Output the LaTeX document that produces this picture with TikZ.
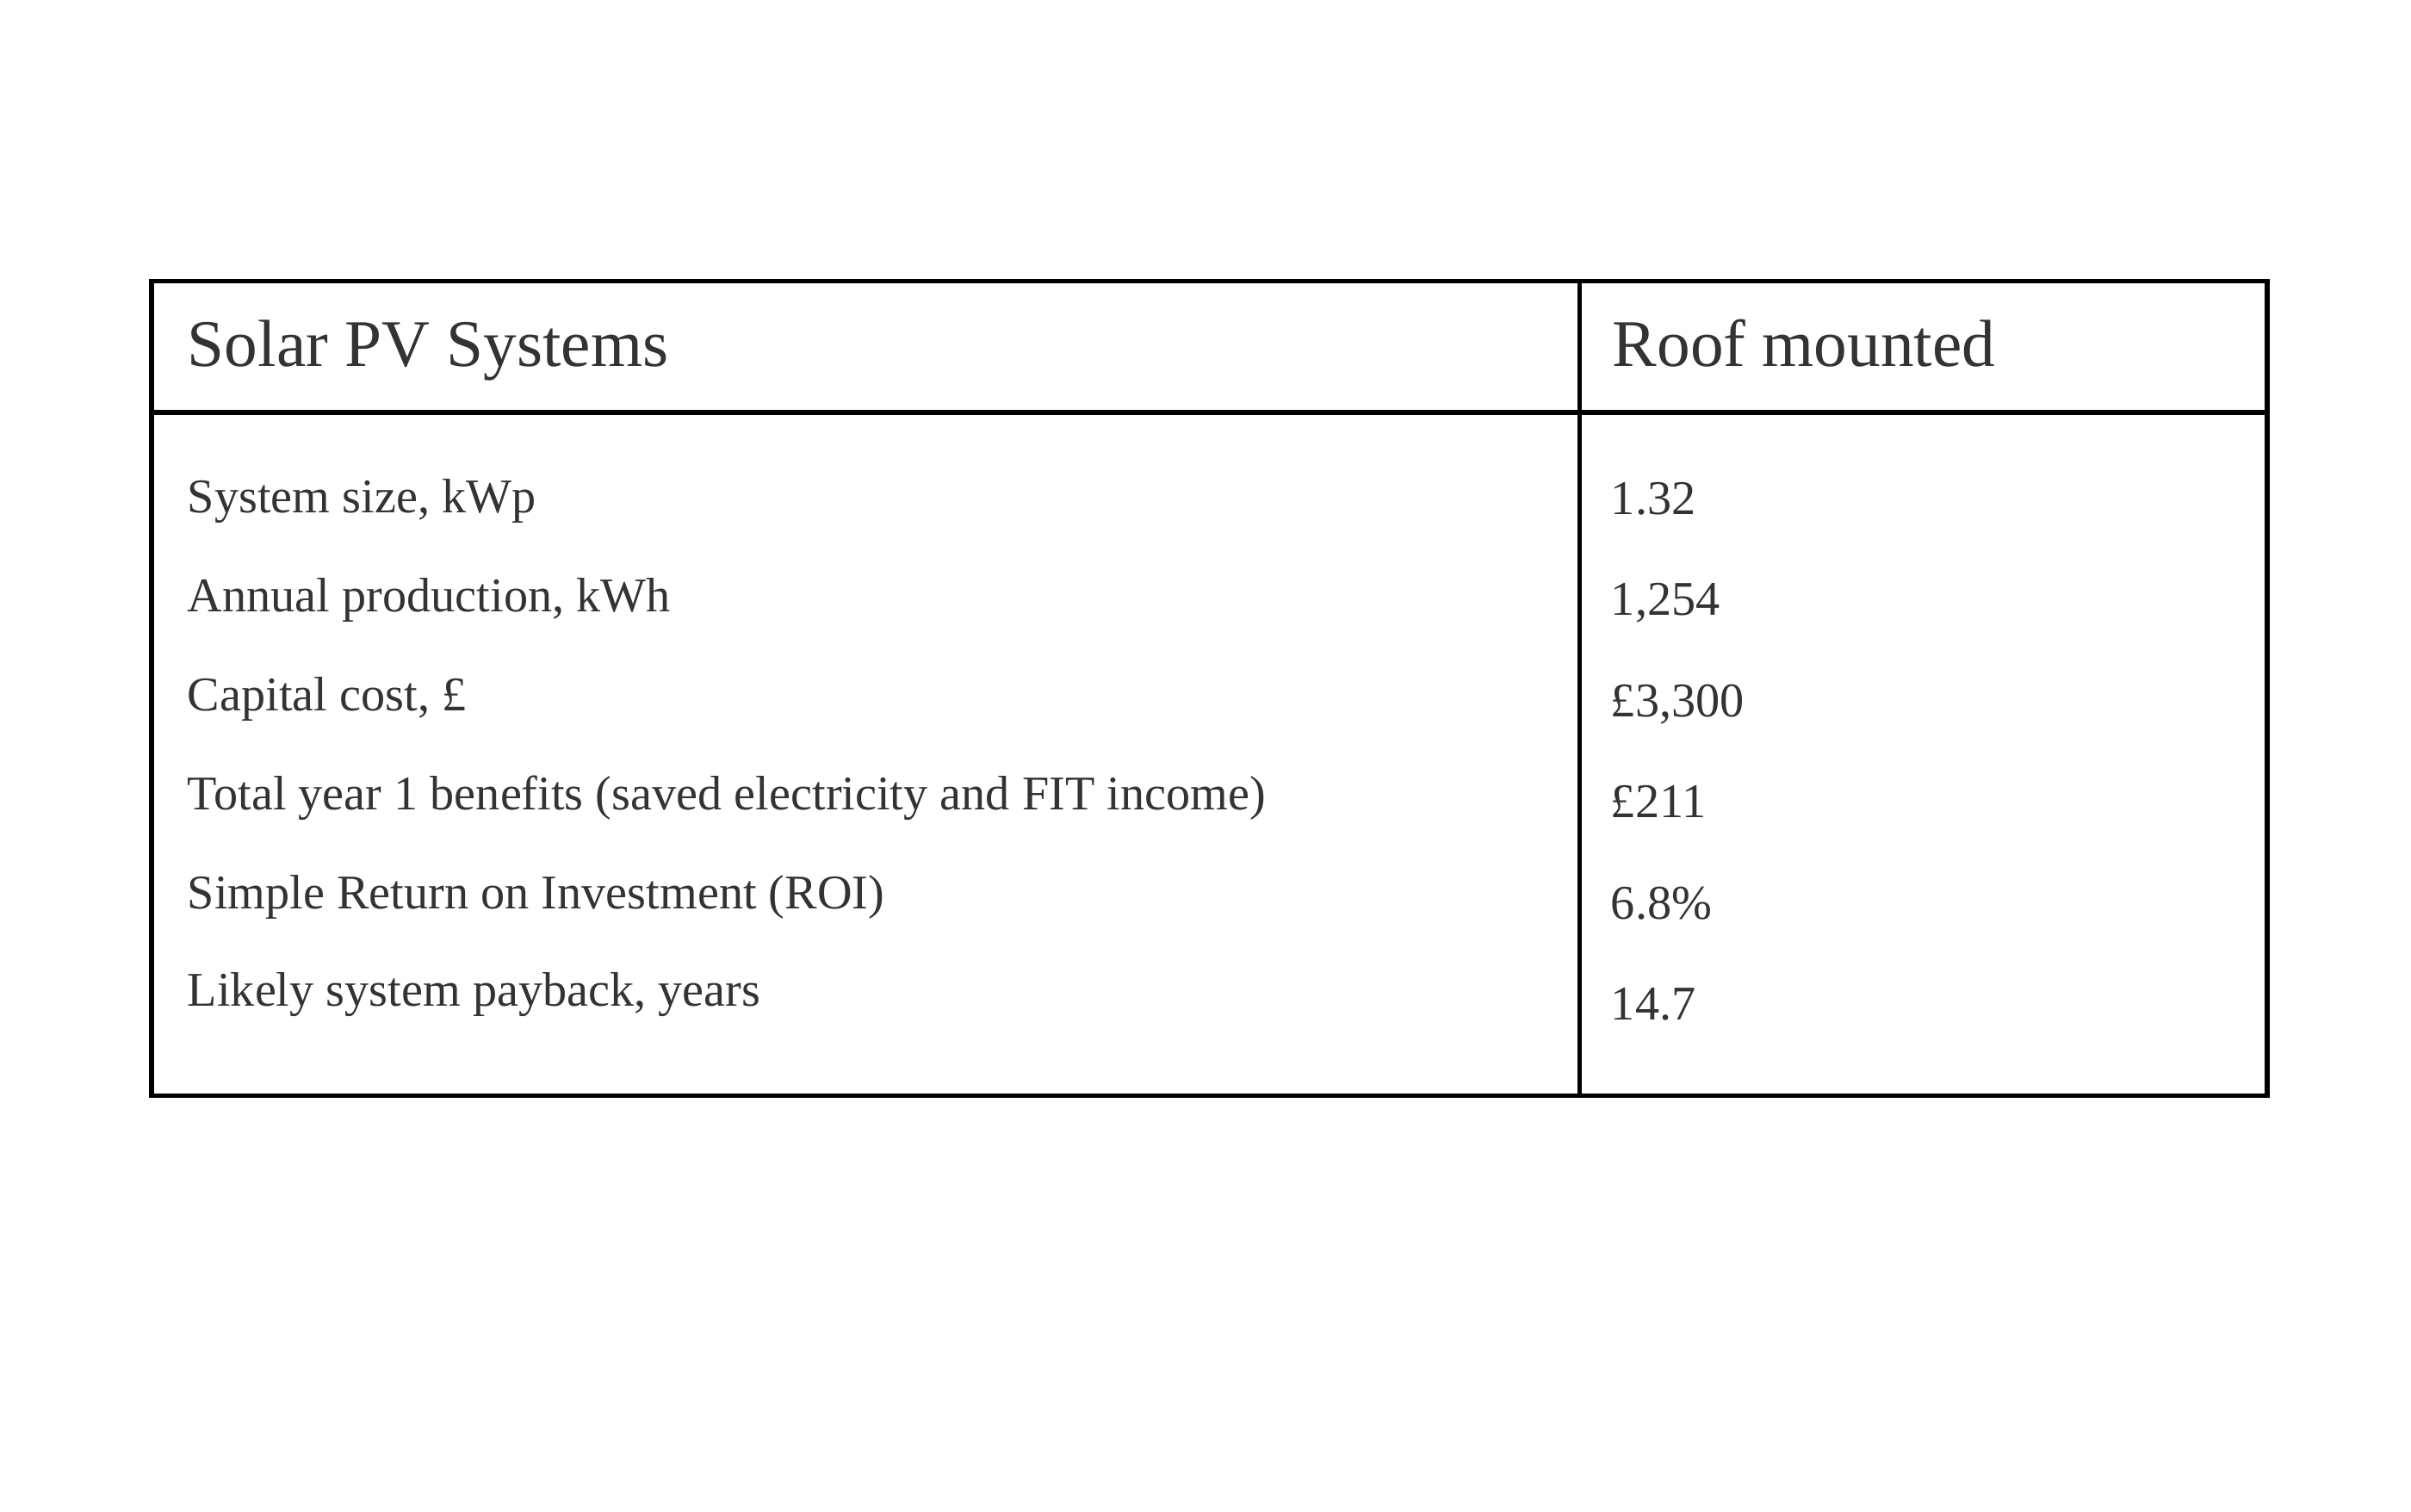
\documentclass[tikz,border=0pt]{standalone}
\usepackage{fontspec}
\setmainfont{Liberation Serif}
\definecolor{txt}{HTML}{333333}
\begin{document}
\begin{tikzpicture}[x=0.01795cm,y=-0.01795cm,
  hd/.style={anchor=base west,text=txt,font=\fontsize{22}{26}\selectfont,inner sep=0},
  bd/.style={anchor=base west,text=txt,font=\fontsize{16}{20}\selectfont,inner sep=0},
  rule/.style={line width=1.6pt,black}]
\useasboundingbox (0,0) rectangle (1560,978);
\coordinate (tl) at (98,182); \coordinate (br) at (1467,709);
\coordinate (ht) at (1022,182); \coordinate (hb) at (1022,709);
\coordinate (hl) at (98,267); \coordinate (hr) at (1467,267);
\draw[rule] (tl) rectangle (br);
\draw[rule] (ht) -- (hb);
\draw[rule] (hl) -- (hr);
\node[hd] (h1) at (121,237) {Solar PV Systems};
\node[hd] (h2) at (1043,237) {Roof mounted};
\node[bd] (l1) at (121,332) {System size, kWp};
\node[bd] (l2) at (121,396) {Annual production, kWh};
\node[bd] (l3) at (121,460) {Capital cost, £};
\node[bd] (l4) at (121,524) {Total year 1 benefits (saved electricity and FIT income)};
\node[bd] (l5) at (121,588) {Simple Return on Investment (ROI)};
\node[bd] (l6) at (121,651) {Likely system payback, years};
\node[bd] (v1) at (1042,333) {1.32};
\node[bd] (v2) at (1042,398) {1,254};
\node[bd] (v3) at (1042,464) {£3,300};
\node[bd] (v4) at (1042,529) {£211};
\node[bd] (v5) at (1042,595) {6.8\%};
\node[bd] (v6) at (1042,660) {14.7};
\end{tikzpicture}
\end{document}
